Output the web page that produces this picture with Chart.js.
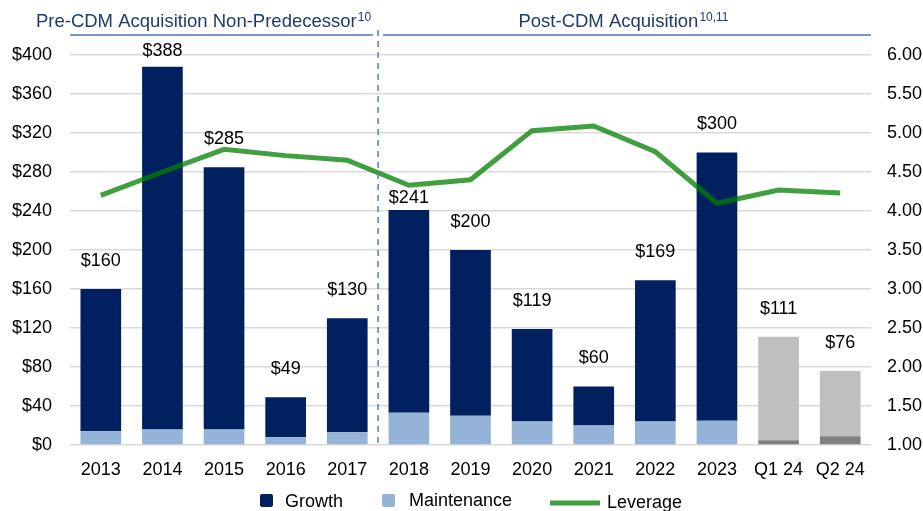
<!DOCTYPE html>
<html>
<head>
<meta charset="utf-8">
<script src="https://cdn.jsdelivr.net/npm/chart.js@4"></script>
<style>
  body { margin: 0; background: #fff; }
  #wrap { width: 923px; height: 511px; position: relative; }
</style>
</head>
<body>
<div id="wrap"><canvas id="myChart"></canvas></div>
<script>
// values ($ millions, leverage x)
var periods = ['2013', '2014', '2015', '2016', '2017', '2018', '2019', '2020', '2021', '2022', '2023', 'Q1 24', 'Q2 24']
var totalCapex = [160, 388, 285, 49, 130, 241, 200, 119, 60, 169, 300, 111, 76]
var maintenanceCapex = [14, 16, 16, 8, 13, 33, 30, 24, 20, 24, 25, 5, 9]
var leverage = [4.20, 4.50, 4.79, 4.71, 4.65, 4.33, 4.40, 5.03, 5.09, 4.76, 4.10, 4.27, 4.23]
var leftTicks = [0, 40, 80, 120, 160, 200, 240, 280, 320, 360, 400]

var growthCapex = totalCapex.map((t, i) => t - maintenanceCapex[i])

var NAVY = '#002060', LIGHTBLUE = '#95b3d7', LIGHTGRAY = '#bfbfbf', DARKGRAY = '#808080'
var LINE_GREEN = 'rgba(0,128,0,0.75)'
var isQuarter = periods.map(p => p.startsWith('Q'))

// label offsets above bar tops (the original nudges two of them)
var labelGap = 28
var labelGapOverride = { 1: 16, 5: 12 }

var FONT = "'Liberation Sans', Arial, sans-serif"

const overlayPlugin = {
  id: 'overlay',
  afterDatasetsDraw(chart) {
    const ctx = chart.ctx
    const x = chart.scales.x, y = chart.scales.y
    ctx.save()
    ctx.font = '18px ' + FONT
    ctx.fillStyle = '#000'
    ctx.textAlign = 'center'
    ctx.textBaseline = 'middle'
    totalCapex.forEach((t, i) => {
      const gap = labelGapOverride[i] !== undefined ? labelGapOverride[i] : labelGap
      ctx.fillText('$' + t, x.getPixelForValue(i), y.getPixelForValue(t) - gap)
    })
    ctx.restore()
  },
  afterDraw(chart) {
    const ctx = chart.ctx
    const x = chart.scales.x
    const area = chart.chartArea
    const divX = (x.getPixelForValue(4) + x.getPixelForValue(5)) / 2
    ctx.save()
    // dashed divider
    ctx.strokeStyle = '#4f81bd'
    ctx.lineWidth = 1.5
    ctx.setLineDash([6, 5])
    ctx.beginPath()
    ctx.moveTo(divX, 30)
    ctx.lineTo(divX, area.bottom)
    ctx.stroke()
    ctx.setLineDash([])
    // header rules
    ctx.strokeStyle = '#7399c6'
    ctx.lineWidth = 2
    ctx.beginPath()
    ctx.moveTo(area.left, 35); ctx.lineTo(divX - 5, 35)
    ctx.moveTo(divX + 5, 35); ctx.lineTo(area.right, 35)
    ctx.stroke()
    // header text with superscripts
    function header(text, sup, cx) {
      ctx.font = '18.5px ' + FONT
      const w1 = ctx.measureText(text).width
      ctx.font = '12px ' + FONT
      const w2 = ctx.measureText(sup).width
      const start = cx - (w1 + w2) / 2
      ctx.fillStyle = '#1f3a6e'
      ctx.textAlign = 'left'
      ctx.textBaseline = 'alphabetic'
      ctx.font = '18.5px ' + FONT
      ctx.fillText(text, start, 27)
      ctx.font = '12px ' + FONT
      ctx.fillText(sup, start + w1 + 1, 21)
    }
    header('Pre-CDM Acquisition Non-Predecessor', '10', 203)
    header('Post-CDM Acquisition', '10,11', 623)
    // legend
    ctx.font = '18px ' + FONT
    ctx.textBaseline = 'middle'
    function box(bx, color) {
      ctx.fillStyle = color
      ctx.beginPath()
      ctx.roundRect(bx, 494, 13, 13, 2)
      ctx.fill()
    }
    box(260, NAVY)
    box(382, LIGHTBLUE)
    ctx.fillStyle = '#000'
    ctx.fillText('Growth', 285, 502)
    ctx.fillText('Maintenance', 409, 501)
    ctx.fillText('Leverage', 607, 503)
    ctx.strokeStyle = LINE_GREEN
    ctx.lineWidth = 5
    ctx.beginPath()
    ctx.moveTo(550, 503); ctx.lineTo(600, 503)
    ctx.stroke()
    ctx.restore()
  }
}

let ctx = document.getElementById('myChart').getContext('2d')
let chart = new Chart(ctx, {
  type: 'bar',
  data: {
    labels: periods,
    datasets: [{
      label: 'Maintenance',
      data: maintenanceCapex,
      backgroundColor: isQuarter.map(q => q ? DARKGRAY : LIGHTBLUE),
      barPercentage: 0.66,
      categoryPercentage: 1.0,
      order: 1
    },
    {
      label: 'Growth',
      data: growthCapex,
      backgroundColor: isQuarter.map(q => q ? LIGHTGRAY : NAVY),
      barPercentage: 0.66,
      categoryPercentage: 1.0,
      order: 1
    },
    {
      type: 'line',
      label: 'Leverage',
      data: leverage,
      yAxisID: 'y1',
      borderColor: LINE_GREEN,
      borderWidth: 5,
      pointRadius: 0,
      tension: 0,
      fill: false,
      order: 0
    }]
  },
  options: {
    responsive: true,
    maintainAspectRatio: false,
    animation: false,
    layout: { padding: { top: 55, left: 12, right: 1, bottom: 26 } },
    plugins: { legend: { display: false }, tooltip: { enabled: false } },
    scales: {
      x: {
        stacked: true,
        grid: { display: false },
        border: { display: false },
        afterFit: (axis) => { axis.height = 40 },
        ticks: { color: '#000', font: { family: FONT, size: 18 }, padding: 6 }
      },
      y: {
        stacked: true,
        min: 0,
        max: 400,
        afterBuildTicks: (axis) => { axis.ticks = leftTicks.map(v => ({ value: v })) },
        afterFit: (axis) => { axis.width = 58 },
        grid: { color: '#d9d9d9', lineWidth: 1.5, drawTicks: false },
        border: { display: false },
        ticks: { color: '#000', font: { family: FONT, size: 18 }, padding: 18, callback: (v) => '$' + v }
      },
      y1: {
        position: 'right',
        min: 1,
        max: 6,
        afterFit: (axis) => { axis.width = 51 },
        grid: { display: false, drawTicks: false },
        border: { display: false },
        ticks: { stepSize: 0.5, color: '#000', font: { family: FONT, size: 18 }, padding: 16, callback: (v) => v.toFixed(2) }
      }
    }
  },
  plugins: [overlayPlugin]
})
</script>
</body>
</html>
